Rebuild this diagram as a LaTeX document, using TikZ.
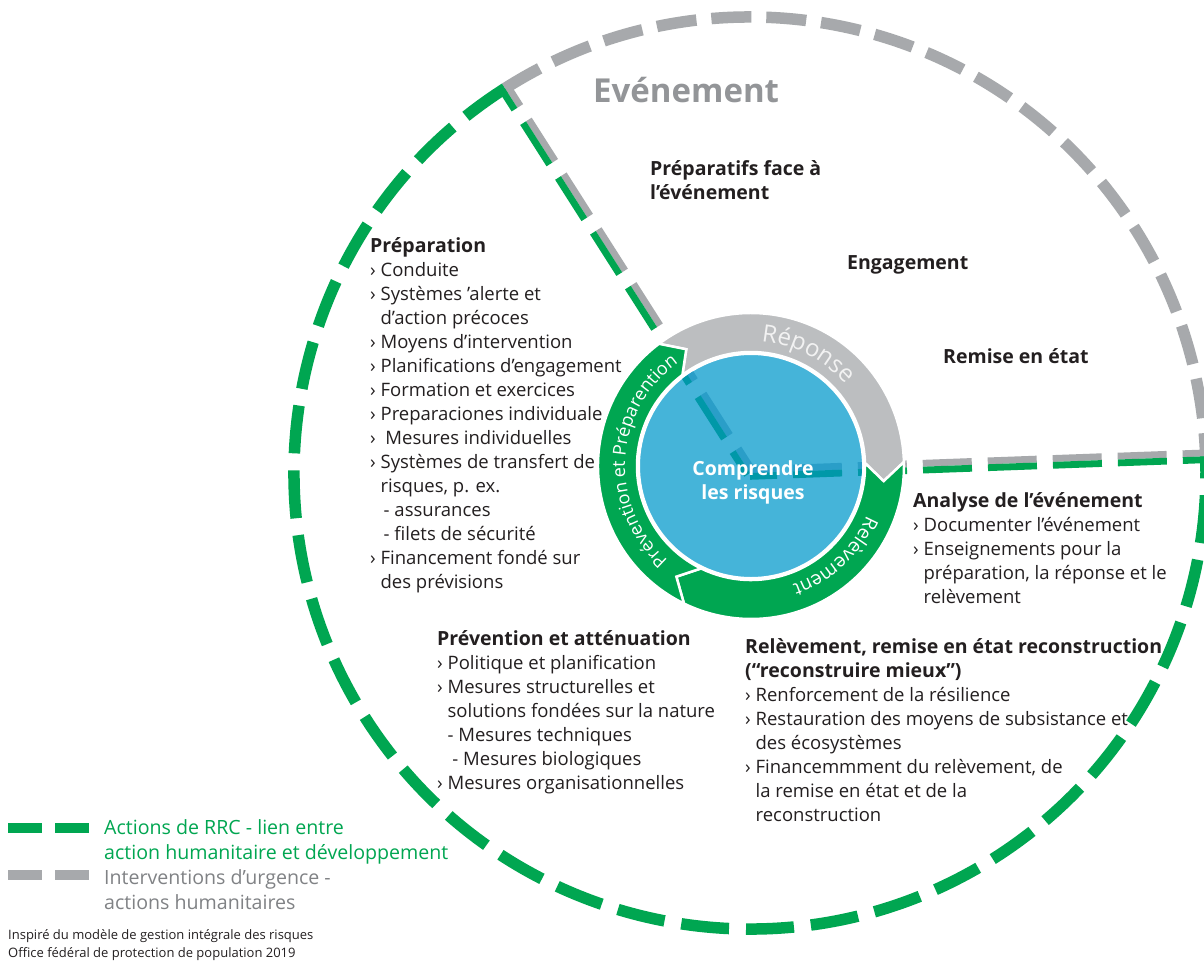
\documentclass[tikz,border=0pt]{standalone}
\usepackage{fontspec}
\setmainfont{Open Sans}
\usetikzlibrary{decorations.text}
\definecolor{rgreen}{RGB}{0,166,81}
\definecolor{dgray}{RGB}{167,169,172}
\definecolor{ringgray}{RGB}{188,190,192}
\definecolor{rblue}{RGB}{69,180,217}
\definecolor{txt}{RGB}{35,31,32}
\definecolor{evgray}{RGB}{147,149,152}
\definecolor{lgray}{RGB}{128,130,133}
\definecolor{tgreen}{RGB}{0,152,168}
\definecolor{tgray}{RGB}{42,158,200}
\definecolor{rtext}{RGB}{242,242,242}
\newcommand\hi{\hphantom{›\ }}
\newcommand\bodyfont{\fontsize{18.5}{24}\selectfont}
\newcommand\headfont{\fontsize{19.5}{24}\selectfont\bfseries}
\newcommand\rfont[1]{\fontsize{#1}{24}\selectfont}
\newcommand\txtblock[4]{\foreach \t [count=\i from 0] in {#4} {\node[body, anchor=base west] (#1\i) at (#2, #3+24*\i) {\t};}}
\newcommand\radialpair[2]{%
  \begin{scope}[shift={(O)}, rotate=122.5]
    \draw[#1, rad] (0,3.4) -- (456,3.4);
    \draw[#2, rad] (0,-3.4) -- (456,-3.4);
  \end{scope}
  \begin{scope}[shift={(O)}, rotate=2.1]
    \draw[#1, rad] (0,-3.4) -- (456,-3.4);
    \draw[#2, rad] (0,3.4) -- (456,3.4);
  \end{scope}}
\newcommand\ringseg[3]{%
  \filldraw[fill=#3, draw=white, line width=2.5, line join=miter]
    (#1:153) arc[start angle=#1, end angle=#2, radius=153] -- (#2+8:133.5) -- (#2:114)
    arc[start angle=#2, end angle=#1, radius=114] -- (#1+8:133.5) -- cycle;}
\begin{document}
\begin{tikzpicture}[x=1pt, y=-1pt,
  body/.style={inner sep=0pt, text=txt, font=\bodyfont},
  rad/.style={line width=6.8, dash pattern=on 49 off 16, dash phase=22},
  outer/.style={line width=11.5},
  head/.style={inner sep=0pt, text=txt, font=\headfont, anchor=base west},
  legend/.style={inner sep=0pt, font=\fontsize{19.6}{25}\selectfont, anchor=base west},
  foot/.style={inner sep=0pt, text=txt, font=\fontsize{13}{18}\selectfont, anchor=base west},
  ringtext/.style n args={3}{decorate, decoration={text along path, text={|\rfont{#1}|#2}, text align=center, text color=#3}}]
\fill[white] (0,0) rectangle (1204,961);
\useasboundingbox (0,0) rectangle (1204,961);
\clip (0,0) rectangle (1204,961);
\coordinate (O) at (750,473);
\coordinate (C) at (751,466);
% outer dashed circle
\draw[dgray, outer, dash pattern=on 40 off 15] (O) ++(-122.5:456) arc[start angle=-122.5, end angle=-2.1, radius=456];
\draw[rgreen, outer, dash pattern=on 48 off 17] (O) ++(-122.5:456) arc[start angle=-122.5, end angle=-362.1, radius=456];
% radial double lines
\radialpair{dgray}{rgreen}
% ring
\begin{scope}[shift={(C)}]
  \ringseg{-127}{-1.5}{ringgray}
  \ringseg{-1.5}{116}{rgreen}
  \ringseg{116}{233}{rgreen}
  \path[ringtext={24}{Réponse}{rtext}] (-122:125) arc[start angle=-122, end angle=-4, radius=125];
  \path[ringtext={19}{Relèvement}{white}] (0:126) arc[start angle=0, end angle=94, radius=126];
  \path[ringtext={18}{Prévention et Préparention}{white}] (126:126) arc[start angle=126, end angle=240, radius=126];
\end{scope}
% blue circle
\filldraw[fill=rblue, draw=white, line width=3] (C) circle[radius=112.5];
\begin{scope}
  \clip (C) circle[radius=111];
  \radialpair{tgray}{tgreen}
\end{scope}
\node[head, text=white, anchor=base] (cr1) at (753,475) {Comprendre};
\node[head, text=white, anchor=base] (cr2) at (753,499) {les risques};
% titles
\node[inner sep=0pt, text=evgray, font=\fontsize{33}{36}\selectfont\bfseries, anchor=base west] (ev) at (593,102) {Evénement};
\node[head] (pf1) at (650,175) {Préparatifs face à};
\node[head] (pf2) at (650,199) {l’événement};
\node[head] (eng) at (847,269) {Engagement};
\node[head] (rem) at (943,363) {Remise en état};
% text blocks
\txtblock{prep}{370}{252}{{\headfont Préparation},{› Conduite},{› Systèmes ’alerte et},{\hi d’action précoces},{› Moyens d’intervention},{› Planifications d’engagement},{› Formation et exercices},{› Preparaciones individuale},{›\ \ Mesures individuelles},{› Systèmes de transfert de},{\hi risques, p. ex.},{\hi\,- assurances},{\hi\,- filets de sécurité},{› Financement fondé sur},{\hi des prévisions}}
\txtblock{ana}{913}{507}{{\headfont Analyse de l’événement},{› Documenter l’événement},{› Enseignements pour la},{\hi préparation, la réponse et le},{\hi relèvement}}
\txtblock{rel}{745}{653}{{\headfont Relèvement, remise en état reconstruction},{\headfont (“reconstruire mieux”)},{› Renforcement de la résilience},{› Restauration des moyens de subsistance et},{\hi des écosystèmes},{› Financemmment du relèvement, de},{\hi la remise en état et de la},{\hi reconstruction}}
\txtblock{prev}{437}{645}{{\headfont Prévention et atténuation},{› Politique et planification},{› Mesures structurelles et},{\hi solutions fondées sur la nature},{\hi - Mesures techniques},{\hi\ - Mesures biologiques},{› Mesures organisationnelles}}
% legend
\coordinate (lga) at (8,828);
\coordinate (lgb) at (93,828);
\coordinate (lgc) at (8,875);
\coordinate (lgd) at (93,875);
\draw[rgreen, line width=10, dash pattern=on 34 off 13] (lga) -- (lgb);
\draw[dgray, line width=10, dash pattern=on 34 off 13] (lgc) -- (lgd);
\node[legend, text=rgreen] (lt1) at (104,834) {Actions de RRC - lien entre};
\node[legend, text=rgreen] (lt2) at (104,859) {action humanitaire et développement};
\node[legend, text=lgray] (lt3) at (104,884) {Interventions d’urgence -};
\node[legend, text=lgray] (lt4) at (104,909) {actions humanitaires};
\node[foot] (f1) at (8,939) {Inspiré du modèle de gestion intégrale des risques};
\node[foot] (f2) at (8,957) {Office fédéral de protection de population 2019};
\end{tikzpicture}
\end{document}
